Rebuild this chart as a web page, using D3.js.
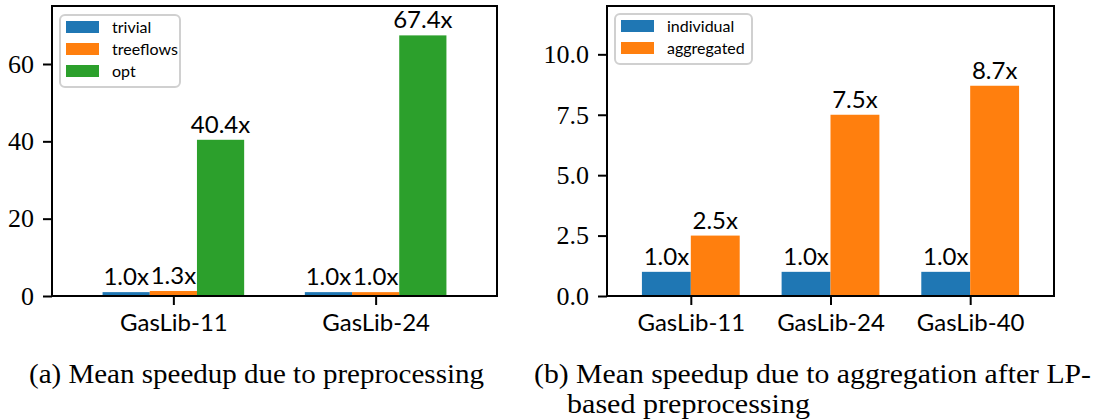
<!DOCTYPE html>
<html>
<head>
<meta charset="utf-8">
<script src="https://cdn.jsdelivr.net/npm/d3@7"></script>
<style>
	body { margin: 0; background: #fff; }
	.tick line { stroke: #000; stroke-width: 2; }
	.y-axis text { font-family: "Liberation Serif", serif; font-size: 26px; fill: #000; }
	.x-axis text { font-family: "Lato", sans-serif; font-size: 24px; fill: #000; }
	.bar-label { font-family: "Lato", sans-serif; font-size: 24px; fill: #000; }
	.legend text { font-family: "Lato", sans-serif; font-size: 16px; fill: #000; }
	.caption { font-family: "Liberation Serif", serif; font-size: 27px; fill: #000; }
</style>
</head>
<body>
<div id="chart-area"></div>
<script>
// panel (a) data
let categoriesA = ["GasLib-11", "GasLib-24"];
let seriesNamesA = ["trivial", "treeflows", "opt"];
let trivialA = [1.0, 1.0];
let treeflowsA = [1.3, 1.0];
let optA = [40.4, 67.4];
let yTicksA = [0, 20, 40, 60];

// panel (b) data
let categoriesB = ["GasLib-11", "GasLib-24", "GasLib-40"];
let seriesNamesB = ["individual", "aggregated"];
let individualB = [1.0, 1.0, 1.0];
let aggregatedB = [2.5, 7.5, 8.7];
let yTicksB = [0, 2.5, 5.0, 7.5, 10.0];

let colors = ["#1f77b4", "#ff7f0e", "#2ca02c"];

let svg = d3.select("#chart-area").append("svg")
	.attr("width", 1097)
	.attr("height", 420);

drawPanel({
	left: 52, right: 497, top: 6, bottom: 296,
	categories: categoriesA,
	names: seriesNamesA,
	series: [trivialA, treeflowsA, optA],
	yMax: 75,
	yTicks: yTicksA,
	yFormat: d3.format("d"),
	barWidth: 0.7 / 3,
	legend: {x: 60, y: 15, w: 120, h: 72}
});

drawPanel({
	left: 607, right: 1054, top: 6, bottom: 296,
	categories: categoriesB,
	names: seriesNamesB,
	series: [individualB, aggregatedB],
	yMax: 12,
	yTicks: yTicksB,
	yFormat: d3.format(".1f"),
	barWidth: 0.35,
	legend: {x: 615, y: 14, w: 137, h: 50}
});

function drawPanel(p) {
	let g = svg.append("g");
	let n = p.categories.length;
	let k = p.series.length;

	let x = d3.scaleLinear()
		.domain([-0.6, n - 1 + 0.6])
		.range([p.left, p.right]);

	let y = d3.scaleLinear()
		.domain([0, p.yMax])
		.range([p.bottom, p.top]);

	// bars
	p.series.forEach((vals, s) => {
		let off = (s - (k - 1) / 2) * p.barWidth;
		g.selectAll(".bar-" + s)
			.data(vals)
			.enter()
			.append("rect")
			.attr("x", (d, i) => x(i + off - p.barWidth / 2))
			.attr("width", x(p.barWidth) - x(0))
			.attr("y", d => y(d))
			.attr("height", d => y(0) - y(d))
			.attr("fill", colors[s]);

		g.selectAll(".label-" + s)
			.data(vals)
			.enter()
			.append("text")
			.attr("class", "bar-label")
			.attr("x", (d, i) => x(i + off))
			.attr("y", d => y(d) - 7)
			.attr("text-anchor", "middle")
			.text(d => d.toFixed(1) + "x");
	});

	// axes
	let xAxis = d3.axisBottom(x)
		.tickValues(d3.range(n))
		.tickFormat(i => p.categories[i])
		.tickSize(9)
		.tickPadding(9);
	g.append("g")
		.attr("class", "axis x-axis")
		.attr("transform", "translate(0," + p.bottom + ")")
		.call(xAxis)
		.call(a => a.select(".domain").remove());

	let yAxis = d3.axisLeft(y)
		.tickValues(p.yTicks)
		.tickFormat(p.yFormat)
		.tickSize(9)
		.tickPadding(9);
	g.append("g")
		.attr("class", "axis y-axis")
		.attr("transform", "translate(" + p.left + ",0)")
		.call(yAxis)
		.call(a => a.select(".domain").remove());

	// frame
	g.append("rect")
		.attr("x", p.left)
		.attr("y", p.top)
		.attr("width", p.right - p.left)
		.attr("height", p.bottom - p.top)
		.attr("fill", "none")
		.attr("stroke", "#000")
		.attr("stroke-width", 2);

	// legend
	let lg = g.append("g").attr("class", "legend");
	lg.append("rect")
		.attr("x", p.legend.x)
		.attr("y", p.legend.y)
		.attr("width", p.legend.w)
		.attr("height", p.legend.h)
		.attr("rx", 5)
		.attr("fill", "#fff")
		.attr("fill-opacity", 0.8)
		.attr("stroke", "#d0d0d0")
		.attr("stroke-width", 2);

	p.names.forEach((name, s) => {
		let cy = p.legend.y + 12 + s * 22;
		lg.append("rect")
			.attr("x", p.legend.x + 6)
			.attr("y", cy - 6)
			.attr("width", 33)
			.attr("height", 12)
			.attr("fill", colors[s]);
		lg.append("text")
			.attr("x", p.legend.x + 52)
			.attr("y", cy)
			.attr("dy", "0.35em")
			.text(name);
	});
}

// captions
svg.append("text")
	.attr("class", "caption")
	.attr("x", 29)
	.attr("y", 383)
	.attr("textLength", 455)
	.attr("lengthAdjust", "spacingAndGlyphs")
	.text("(a) Mean speedup due to preprocessing");

svg.append("text")
	.attr("class", "caption")
	.attr("x", 534)
	.attr("y", 383)
	.attr("textLength", 557)
	.attr("lengthAdjust", "spacingAndGlyphs")
	.text("(b) Mean speedup due to aggregation after LP-");

svg.append("text")
	.attr("class", "caption")
	.attr("x", 567)
	.attr("y", 413)
	.attr("textLength", 243)
	.attr("lengthAdjust", "spacingAndGlyphs")
	.text("based preprocessing");
</script>
</body>
</html>
